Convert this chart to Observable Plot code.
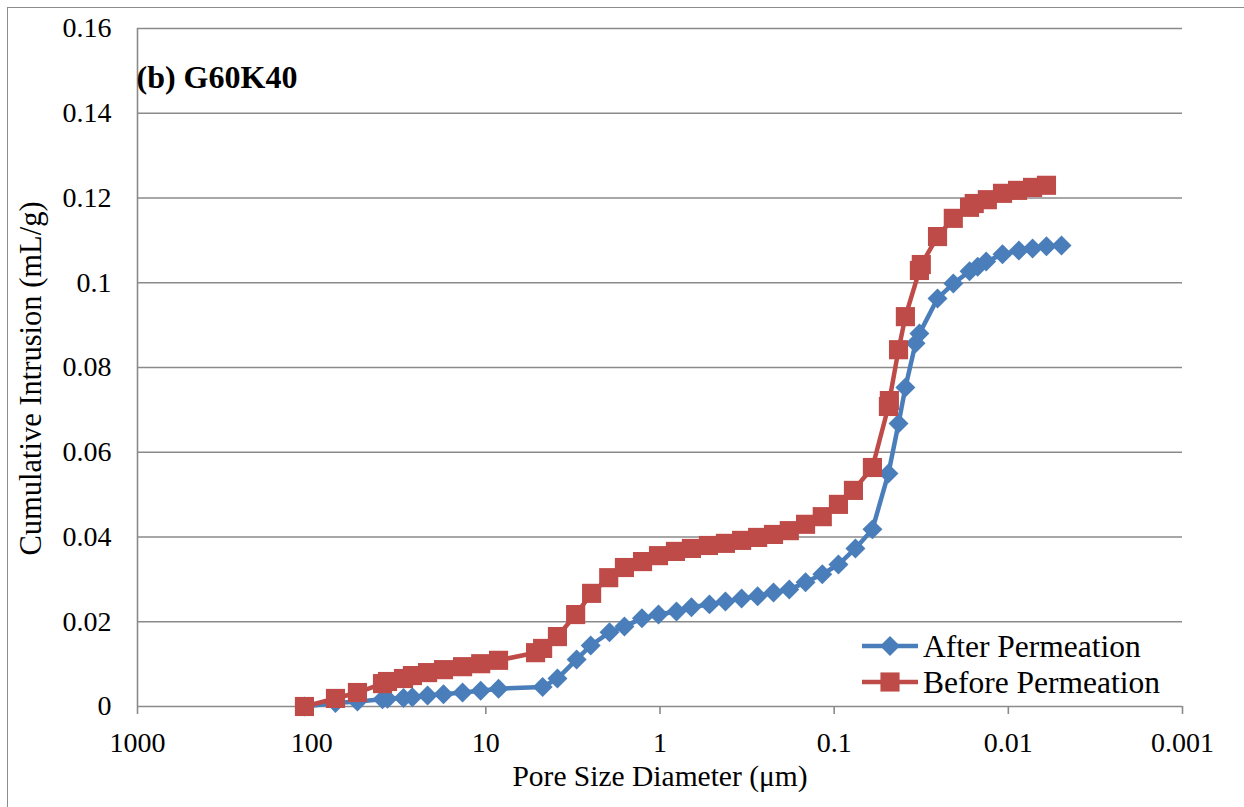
<!DOCTYPE html>
<html>
<head>
<meta charset="utf-8">
<script src="https://cdn.jsdelivr.net/npm/d3@7"></script>
<script src="https://cdn.jsdelivr.net/npm/@observablehq/plot@0.6"></script>
<style>
  html, body { margin: 0; padding: 0; background: #fff; }
  #wrap { position: relative; width: 1244px; height: 807px; overflow: hidden; background: #fff; }
  #frame { position: absolute; left: 7px; top: 7px; width: 1300px; height: 900px;
           border-left: 1.5px solid #8c8c8c; border-top: 1.5px solid #8c8c8c; }
  #chart, #legend { position: absolute; left: 0; top: 0; }
  #legend { pointer-events: none; }
</style>
</head>
<body>
<div id="wrap">
  <div id="frame"></div>
  <div id="chart"></div>
  <svg id="legend" width="1244" height="807"></svg>
</div>
<script>
// Pore size diameter (µm) and cumulative intrusion (mL/g), after permeation
const afterDiam = [110, 73, 54.6, 39.2, 36.7, 29.7, 26.4, 21.6, 17.5, 13.6, 10.7, 8.45,
  4.72, 3.88, 3.01, 2.50, 1.95, 1.60, 1.27, 1.02, 0.804, 0.660, 0.520, 0.421, 0.340,
  0.275, 0.223, 0.181, 0.146, 0.117, 0.0945, 0.0755, 0.0603, 0.0488, 0.0427, 0.0390,
  0.0341, 0.0324, 0.0255, 0.0207, 0.0167, 0.0150, 0.0134, 0.0108, 0.0087, 0.00726,
  0.00604, 0.00495];
const afterCum = [0, 0.0008, 0.0012, 0.0017, 0.0018, 0.0020, 0.0022, 0.0026, 0.0029,
  0.0033, 0.0037, 0.0042, 0.0046, 0.0066, 0.0111, 0.0144, 0.0175, 0.0189, 0.0208,
  0.0217, 0.0224, 0.0234, 0.0241, 0.0248, 0.0255, 0.0260, 0.0269, 0.0276, 0.0293,
  0.0312, 0.0335, 0.0373, 0.0418, 0.0550, 0.0668, 0.0753, 0.0857, 0.0880, 0.0963,
  0.0998, 0.1027, 0.1038, 0.1050, 0.1067, 0.1076, 0.1081, 0.1086, 0.1088];

// Before permeation
const beforeDiam = [110, 73, 54.6, 39.2, 36.7, 29.7, 26.4, 21.6, 17.5, 13.6, 10.7, 8.45,
  5.18, 4.72, 3.88, 3.05, 2.47, 1.97, 1.60, 1.26, 1.02, 0.815, 0.660, 0.527, 0.421,
  0.340, 0.275, 0.223, 0.181, 0.146, 0.117, 0.0945, 0.0775, 0.0603, 0.0488, 0.0482,
  0.0427, 0.0390, 0.0324, 0.0316, 0.0255, 0.0207, 0.0167, 0.0157, 0.0132, 0.0108,
  0.00885, 0.00726, 0.00604];
const beforeCum = [0, 0.0019, 0.0033, 0.0054, 0.0059, 0.0066, 0.0073, 0.0080, 0.0087,
  0.0094, 0.0101, 0.0109, 0.0127, 0.0137, 0.0165, 0.0217, 0.0267, 0.0304, 0.0328,
  0.0342, 0.0356, 0.0366, 0.0373, 0.0380, 0.0385, 0.0392, 0.0399, 0.0406, 0.0415,
  0.0430, 0.0448, 0.0477, 0.0510, 0.0564, 0.0708, 0.0722, 0.0842, 0.0920, 0.1029,
  0.1043, 0.1109, 0.1152, 0.1178, 0.1187, 0.1196, 0.1211, 0.1218, 0.1225, 0.1230];

// Axis ticks and their labels
const xTicks = [1000, 100, 10, 1, 0.1, 0.01, 0.001];
const xTickLabels = ["1000", "100", "10", "1", "0.1", "0.01", "0.001"];
const yTicks = [0, 0.02, 0.04, 0.06, 0.08, 0.1, 0.12, 0.14, 0.16];
const yTickLabels = ["0", "0.02", "0.04", "0.06", "0.08", "0.1", "0.12", "0.14", "0.16"];

const seriesNames = ["After Permeation", "Before Permeation"];
const chartTitle = "(b) G60K40";
const xTitle = "Pore Size Diameter (μm)";
const yTitle = "Cumulative Intrusion (mL/g)";

const BLUE = "#4a7ebb";
const RED = "#be4b48";
const GRID = "#8a8a8a";
const FONT = "'Liberation Serif', 'Times New Roman', serif";

const after = afterDiam.map((d, i) => ({d, v: afterCum[i]}));
const before = beforeDiam.map((d, i) => ({d, v: beforeCum[i]}));
const xLabel = new Map(xTicks.map((t, i) => [t, xTickLabels[i]]));
const yLabel = new Map(yTicks.map((t, i) => [t, yTickLabels[i]]));

const chart = Plot.plot({
  width: 1244,
  height: 807,
  marginLeft: 137,
  marginRight: 62,
  marginTop: 28,
  marginBottom: 101,
  style: {fontFamily: FONT, color: "#000", background: "transparent", overflow: "visible"},
  x: {type: "log", domain: [1000, 0.001]},
  y: {domain: [0, 0.16]},
  marks: [
    Plot.gridY(yTicks.filter(t => t > 0), {stroke: GRID, strokeOpacity: 1, strokeWidth: 1.6}),
    Plot.ruleY([0], {stroke: GRID, strokeWidth: 1.6}),
    Plot.ruleX([1000], {stroke: GRID, strokeWidth: 1.6}),
    Plot.axisX(xTicks, {
      tickFormat: t => xLabel.get(t), tickSize: 8, tickPadding: 18,
      stroke: GRID, strokeWidth: 1.6, fontSize: 28, label: null
    }),
    Plot.axisY(yTicks, {
      tickFormat: t => yLabel.get(t), tickSize: 0, tickPadding: 26,
      fontSize: 28, label: null
    }),
    Plot.text([xTitle], {frameAnchor: "bottom", textAnchor: "middle", dy: 70, fontSize: 29.5, lineAnchor: "middle"}),
    Plot.text([yTitle], {frameAnchor: "left", textAnchor: "middle", rotate: -90, dx: -106, dy: 11,
      fontSize: 30.5, lineAnchor: "middle"}),
    Plot.text([chartTitle], {frameAnchor: "top-left", textAnchor: "start", dx: -1, dy: 49,
      fontSize: 32, fontWeight: "bold", lineAnchor: "middle"}),
    Plot.line(after, {x: "d", y: "v", stroke: BLUE, strokeWidth: 4.5}),
    Plot.dot(after, {x: "d", y: "v", symbol: "diamond2", r: 9, fill: BLUE, stroke: "none"}),
    Plot.line(before, {x: "d", y: "v", stroke: RED, strokeWidth: 4.5}),
    Plot.dot(before, {x: "d", y: "v", symbol: "square", r: 10.8, fill: RED, stroke: "none"})
  ]
});
document.getElementById("chart").appendChild(chart);

// Legend in the lower right of the plot area
const legend = d3.select("#legend");
const items = [
  {name: seriesNames[0], color: BLUE, symbol: d3.symbolDiamond2, size: Math.PI * 81, y: 646},
  {name: seriesNames[1], color: RED, symbol: d3.symbolSquare, size: Math.PI * 10.8 * 10.8, y: 682}
];
const g = legend.selectAll("g").data(items).join("g")
  .attr("transform", d => `translate(862,${d.y})`);
g.append("line").attr("x1", 0).attr("x2", 56).attr("stroke", d => d.color).attr("stroke-width", 4.5);
g.append("path").attr("transform", "translate(28,0)")
  .attr("d", d => d3.symbol(d.symbol, d.size)()).attr("fill", d => d.color);
g.append("text").attr("x", 61).attr("dy", "0.34em")
  .style("font-family", FONT).style("font-size", "31.5px").attr("fill", "#000")
  .text(d => d.name);
</script>
</body>
</html>
